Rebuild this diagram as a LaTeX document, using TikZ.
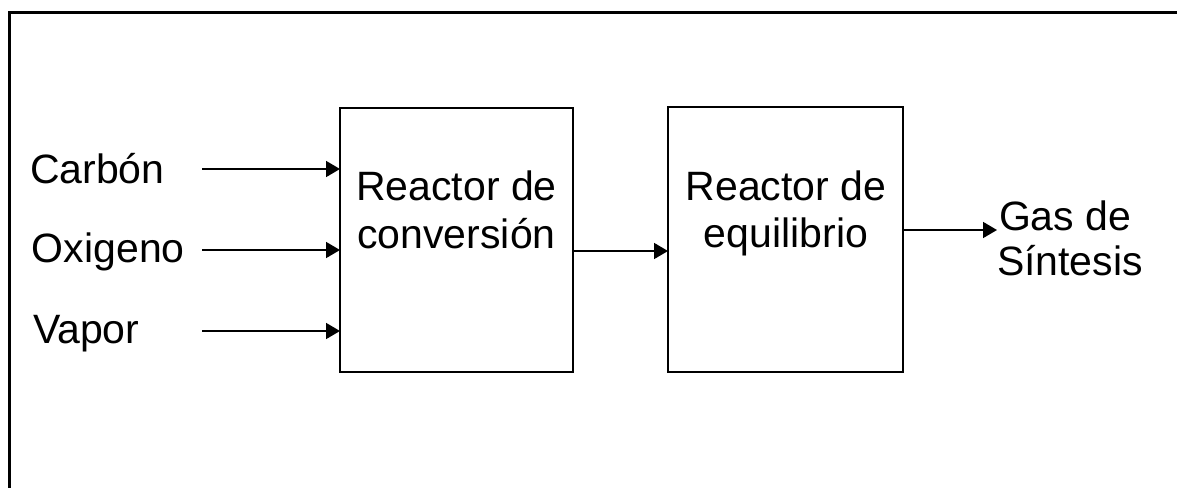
\documentclass[tikz,border=0pt]{standalone}
\usepackage{fontspec}
\setmainfont{Liberation Sans}
\usetikzlibrary{arrows.meta}
\begin{document}
\begin{tikzpicture}[x=0.5pt,y=-0.5pt,
  lbl/.style={inner sep=0pt, outer sep=0pt, font=\fontsize{20.5}{24}\selectfont},
  blk/.style={draw, line width=0.85pt, inner sep=0pt, outer sep=0pt, anchor=north west},
  arr/.style={line width=0.85pt, -{Triangle[length=7pt,width=8pt]}},
  frame/.style={line width=1.5pt}]
\useasboundingbox (0,0) rectangle (1177,487);
% outer frame (only top and left sides visible)
\draw[frame] (9,490) -- (9,12) -- (1180,12);
% blocks
\node[blk, minimum width=116.5pt, minimum height=132pt] (b1) at (340,108) {};
\node[blk, minimum width=117.5pt, minimum height=132.5pt] (b2) at (668,107) {};
% block texts
\node[lbl, anchor=base] (t1a) at (456.5,200) {Reactor de};
\node[lbl, anchor=base] (t1b) at (456.5,248) {conversión};
\node[lbl, anchor=base] (t2a) at (786,200) {Reactor de};
\node[lbl, anchor=base] (t2b) at (786,247) {equilibrio};
% input labels
\node[lbl, anchor=base west] (carbon) at (30,183) {Carbón};
\node[lbl, anchor=base west] (oxig) at (32,262) {Oxigeno};
\node[lbl, anchor=base west] (vapor) at (33,343) {Vapor};
% output label
\node[lbl, anchor=base west] (gas1) at (999,230) {Gas de};
\node[lbl, anchor=base west] (gas2) at (997,275) {Síntesis};
% arrow start points
\coordinate (c1) at (202,169);
\coordinate (c2) at (202,250);
\coordinate (c3) at (202,331);
\coordinate (m) at (620,251);
\coordinate (o) at (997,230);
\draw[arr] (c1) -- (c1 -| b1.west);
\draw[arr] (c2) -- (c2 -| b1.west);
\draw[arr] (c3) -- (c3 -| b1.west);
\draw[arr] (m -| b1.east) -- (m -| b2.west);
\draw[arr] (o -| b2.east) -- (o);
\end{tikzpicture}
\end{document}
